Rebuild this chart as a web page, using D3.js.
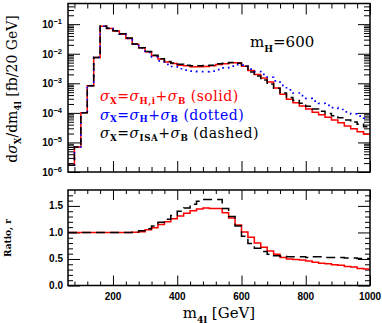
<!DOCTYPE html>
<meta charset="utf-8">
<title>m4l spectrum, mH=600</title>
<body>
<script src="https://cdn.jsdelivr.net/npm/d3@7"></script>
<style>
html, body {
    margin: 0;
    background: #fff;
}
svg {
    display: block;
}
.lbl {
    font: bold 10px "Liberation Sans", Arial, sans-serif;
}
.serif {
    font-family: "DejaVu Serif", "Liberation Serif", serif;
}
</style>
<svg></svg>
<script>
// lower bin edges, 20 GeV bins
var edges = [60, 80, 100, 120, 140, 160, 180, 200, 220, 240, 260, 280, 300, 320, 340, 360,
    380, 400, 420, 440, 460, 480, 500, 520, 540, 560, 580, 600, 620, 640, 660, 680, 700,
    720, 740, 760, 780, 800, 820, 840, 860, 880, 900, 920, 940, 960, 980];

// dsigma/dm4l [fb/20 GeV]
var redTop = [1.7e-6, 7e-6, 1.0e-4, 8.3e-4, 7.5e-3, 0.085, 0.072, 0.059, 0.046, 0.033, 0.021,
    0.0158, 0.0116, 0.0085, 0.0066, 0.0053, 0.0047, 0.0041, 0.0039, 0.0036, 0.0036, 0.0037,
    0.0039, 0.0043, 0.0046, 0.0050, 0.0050, 0.0038, 0.0027, 0.0020, 0.0015, 0.0011, 0.0007,
    0.00043, 0.00029, 0.00022, 0.00017, 0.000135, 0.000105, 0.000086, 0.000071, 0.000057,
    0.000046, 0.000036, 0.000029, 0.000023, 0.000019];

var blueTop = [1.7e-6, 7e-6, 1.0e-4, 8.3e-4, 7.5e-3, 0.085, 0.072, 0.059, 0.046, 0.033, 0.021,
    0.0156, 0.011, 0.0078, 0.0057, 0.0044, 0.0037, 0.0031, 0.0028, 0.0026, 0.0025, 0.0025,
    0.0026, 0.0029, 0.0033, 0.0038, 0.0043, 0.0041, 0.0030, 0.0025, 0.0020, 0.0016, 0.0012,
    0.00085, 0.0006, 0.00047, 0.00038, 0.00031, 0.00025, 0.00021, 0.00018, 0.00015,
    0.00013, 0.000108, 0.000092, 0.000078, 0.000066];

var blackTop = [1.7e-6, 7e-6, 1.0e-4, 8.3e-4, 7.5e-3, 0.086, 0.073, 0.060, 0.047, 0.034, 0.0215,
    0.016, 0.0118, 0.0088, 0.0068, 0.0055, 0.0049, 0.0044, 0.0041, 0.0039, 0.0039, 0.0040,
    0.0041, 0.0046, 0.0048, 0.0051, 0.0048, 0.0038, 0.0024, 0.00175, 0.0013, 0.00095, 0.00068,
    0.00047, 0.00033, 0.00026, 0.00021, 0.000168, 0.000135, 0.000113, 0.000096, 0.00008,
    0.000069, 0.000057, 0.000049, 0.000041, 0.000034];

// ratio r
var redRatio = [1, 1, 1, 1, 1, 1, 1, 1, 1, 1, 1.005, 1.015, 1.05, 1.09, 1.15, 1.2, 1.26, 1.31,
    1.36, 1.41, 1.44, 1.46, 1.45, 1.45, 1.37, 1.27, 1.14, 1.01, 0.91, 0.8, 0.72, 0.65, 0.59,
    0.53, 0.5, 0.49, 0.48, 0.46, 0.44, 0.42, 0.41, 0.39, 0.38, 0.36, 0.35, 0.32, 0.31];

var blackRatio = [1, 1, 1, 1, 1, 1, 1, 1, 1, 1, 1.01, 1.03, 1.07, 1.12, 1.19, 1.25, 1.32, 1.4,
    1.46, 1.53, 1.59, 1.62, 1.62, 1.62, 1.45, 1.3, 1.12, 0.93, 0.79, 0.7, 0.64, 0.59, 0.56,
    0.55, 0.54, 0.54, 0.54, 0.53, 0.54, 0.54, 0.53, 0.53, 0.53, 0.52, 0.52, 0.51, 0.51];

var xMajor = [200, 400, 600, 800, 1000];
var xMinor = [80, 120, 160, 240, 280, 320, 360, 440, 480, 520, 560, 640, 680, 720, 760, 840, 880, 920, 960];
var decades = [-6, -5, -4, -3, -2, -1];
var rMajor = [0, 0.5, 1.0, 1.5];
var rMinor = [0.1, 0.2, 0.3, 0.4, 0.6, 0.7, 0.8, 0.9, 1.1, 1.2, 1.3, 1.4, 1.6, 1.7];

var width = 382,
    height = 323,
    left = 68,
    right = 370,
    top1 = 3.5,
    bot1 = 172,
    top2 = 190,
    bot2 = 285.5;

var svg = d3.select("svg")
    .attr("width", width)
    .attr("height", height);

var x = d3.scaleLinear().domain([60, 1000]).range([left, right]);
var y1 = d3.scaleLog().domain([1e-6, 0.5]).range([bot1, top1]);
var y2 = d3.scaleLinear().domain([0, 1.8]).range([bot2, top2]);

svg.append("clipPath").attr("id", "clip1")
    .append("rect")
    .attr("x", left).attr("y", top1)
    .attr("width", right - left).attr("height", bot1 - top1);

function steps(vals) {
    var pts = edges.map(function(e, i) { return [e, vals[i]]; });
    pts.push([1000, vals[vals.length - 1]]);
    return pts;
}

var line1 = d3.line()
    .x(function(d) { return x(d[0]); })
    .y(function(d) { return y1(d[1]); })
    .curve(d3.curveStepAfter);

var line2 = d3.line()
    .x(function(d) { return x(d[0]); })
    .y(function(d) { return y2(d[1]); })
    .curve(d3.curveStepAfter);

// ticks, drawn inward
function ticks(axis, tr, vals, len) {
    svg.append("g")
        .attr("transform", tr)
        .call(axis.tickValues(vals).tickSize(-len).tickFormat(""))
        .call(function(g) {
            g.select(".domain").remove();
            g.selectAll("line").attr("stroke", "#000").attr("stroke-width", 1);
        });
}

var logMinor = [];
decades.forEach(function(d) {
    [2, 3, 4, 5, 6, 7, 8, 9].forEach(function(m) {
        var v = m * Math.pow(10, d);
        if (v < 0.5) logMinor.push(v);
    });
});
var logMajor = decades.map(function(d) { return Math.pow(10, d); });

// top panel
ticks(d3.axisBottom(x), "translate(0," + bot1 + ")", xMajor, 11);
ticks(d3.axisBottom(x), "translate(0," + bot1 + ")", xMinor, 5);
ticks(d3.axisTop(x), "translate(0," + top1 + ")", xMajor, 11);
ticks(d3.axisTop(x), "translate(0," + top1 + ")", xMinor, 5);
ticks(d3.axisLeft(y1), "translate(" + left + ",0)", logMajor, 12);
ticks(d3.axisLeft(y1), "translate(" + left + ",0)", logMinor, 6);
ticks(d3.axisRight(y1), "translate(" + right + ",0)", logMajor, 12);
ticks(d3.axisRight(y1), "translate(" + right + ",0)", logMinor, 6);

// bottom panel
ticks(d3.axisBottom(x), "translate(0," + bot2 + ")", xMajor, 10);
ticks(d3.axisBottom(x), "translate(0," + bot2 + ")", xMinor, 4);
ticks(d3.axisTop(x), "translate(0," + top2 + ")", xMajor, 10);
ticks(d3.axisTop(x), "translate(0," + top2 + ")", xMinor, 4);
ticks(d3.axisLeft(y2), "translate(" + left + ",0)", rMajor, 12);
ticks(d3.axisLeft(y2), "translate(" + left + ",0)", rMinor, 5);
ticks(d3.axisRight(y2), "translate(" + right + ",0)", rMajor, 12);
ticks(d3.axisRight(y2), "translate(" + right + ",0)", rMinor, 5);

// histograms, top
var h1 = svg.append("g").attr("clip-path", "url(#clip1)").attr("fill", "none");
h1.append("path").attr("d", line1(steps(redTop)))
    .attr("stroke", "#ff0000").attr("stroke-width", 1.5);
h1.append("path").attr("d", line1(steps(blueTop)))
    .attr("stroke", "#0000ff").attr("stroke-width", 1.7)
    .attr("stroke-dasharray", "1.7,4.3");
h1.append("path").attr("d", line1(steps(blackTop)))
    .attr("stroke", "#000").attr("stroke-width", 1.5)
    .attr("stroke-dasharray", "7,4");

// histograms, ratio
var h2 = svg.append("g").attr("fill", "none");
h2.append("path").attr("d", line2(steps(redRatio)))
    .attr("stroke", "#ff0000").attr("stroke-width", 1.5);
h2.append("path").attr("d", line2(steps(blackRatio)))
    .attr("stroke", "#000").attr("stroke-width", 1.5)
    .attr("stroke-dasharray", "9,5");

// frames
[[top1, bot1], [top2, bot2]].forEach(function(p) {
    svg.append("rect")
        .attr("x", left).attr("y", p[0])
        .attr("width", right - left).attr("height", p[1] - p[0])
        .attr("fill", "none").attr("stroke", "#000").attr("stroke-width", 1.5);
});

// tick labels
xMajor.forEach(function(v) {
    svg.append("text").attr("class", "lbl")
        .attr("x", x(v)).attr("y", bot2 + 14)
        .attr("text-anchor", "middle")
        .text(v);
});

logMajor.forEach(function(v, i) {
    var t = svg.append("text").attr("class", "lbl")
        .attr("x", 62).attr("y", y1(v) + 4)
        .attr("text-anchor", "end");
    t.append("tspan").text("10");
    t.append("tspan").attr("dy", -4).attr("font-size", 7.5).text("\u2212" + (-decades[i]));
});

rMajor.forEach(function(v) {
    svg.append("text").attr("class", "lbl")
        .attr("x", 63).attr("y", y2(v) + 3.5)
        .attr("text-anchor", "end")
        .text(d3.format(".1f")(v));
});

// rich text helper: parts of [text, kind]
function rich(t, parts, fs, drop) {
    var shift = 0;
    drop = drop || 0.3;
    parts.forEach(function(p) {
        var k = p[1] || "",
            s = k.indexOf("sub") >= 0 ? fs * drop : 0;
        var ts = t.append("tspan").text(p[0]);
        if (s - shift !== 0) ts.attr("dy", s - shift);
        shift = s;
        if (k.indexOf("sub") >= 0) ts.attr("font-size", fs * 0.62).attr("font-weight", "bold");
        if (k.indexOf("it") >= 0) ts.attr("font-style", "italic");
    });
}

// axis titles
var ty = svg.append("text").attr("class", "serif")
    .attr("transform", "translate(17,89) rotate(-90)")
    .attr("text-anchor", "middle")
    .attr("font-size", 14);
rich(ty, [["d"], ["\u03c3", "it"], ["X", "sub"], ["/dm"], ["4l", "sub"], [" [fb/20 GeV]"]], 14);

var tx = svg.append("text").attr("class", "serif")
    .attr("x", 219).attr("y", 318)
    .attr("text-anchor", "middle")
    .attr("font-size", 15);
rich(tx, [["m"], ["4l", "sub"], [" [GeV]"]], 15);

svg.append("text").attr("class", "serif")
    .attr("transform", "translate(11,238) rotate(-90)")
    .attr("text-anchor", "middle")
    .attr("font-size", 9)
    .attr("font-weight", "bold")
    .text("Ratio, r");

// mH label
var mh = svg.append("text").attr("class", "serif")
    .attr("x", 250).attr("y", 47)
    .attr("font-size", 15);
rich(mh, [["m"], ["H", "sub"], ["=600"]], 15);

// legend
var legend = [
    {color: "#ff0000", parts: [["\u03c3", "it"], ["X", "sub"], ["="], ["\u03c3", "it"], ["H,i", "sub"], ["+"], ["\u03c3", "it"], ["B", "sub"], [" (solid)"]]},
    {color: "#0000ff", parts: [["\u03c3", "it"], ["X", "sub"], ["="], ["\u03c3", "it"], ["H", "sub"], ["+"], ["\u03c3", "it"], ["B", "sub"], [" (dotted)"]]},
    {color: "#000000", parts: [["\u03c3", "it"], ["X", "sub"], ["="], ["\u03c3", "it"], ["ISA", "sub"], ["+"], ["\u03c3", "it"], ["B", "sub"], [" (dashed)"]]}
];

legend.forEach(function(d, i) {
    var t = svg.append("text").attr("class", "serif")
        .attr("x", 100).attr("y", 101 + i * 18.5)
        .attr("font-size", 14)
        .attr("letter-spacing", 0.5)
        .attr("fill", d.color);
    rich(t, d.parts, 14, 0.2);
});
</script>
